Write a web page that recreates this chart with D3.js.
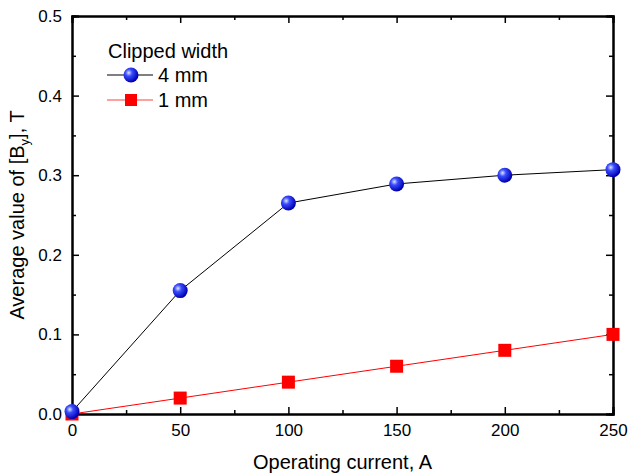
<!DOCTYPE html>
<html lang="en">
<head>
    <meta charset="UTF-8">
    <title>Average value of By vs operating current</title>
    <script src="https://cdnjs.cloudflare.com/ajax/libs/d3/7.8.5/d3.min.js"></script>
    <style>
        body { margin: 0; background: #fff; }
        svg { font-family: "Liberation Sans", Arial, sans-serif; }
    </style>
</head>
<body>
    <div id="chart"></div>
    <script>
        // Data
        const current = [0, 50, 100, 150, 200, 250];
        const width4mm = [0.003, 0.155, 0.265, 0.289, 0.300, 0.307];
        const width1mm = [0.0, 0.02, 0.04, 0.06, 0.08, 0.10];
        const xTicks = [0, 50, 100, 150, 200, 250];
        const yTicks = [0.0, 0.1, 0.2, 0.3, 0.4, 0.5];

        const width = 629, height = 475;
        const margin = { top: 16, right: 16, bottom: 61, left: 72 };
        const iw = width - margin.left - margin.right;
        const ih = height - margin.top - margin.bottom;

        const svg = d3.select("#chart").append("svg")
            .attr("width", width)
            .attr("height", height);

        // sphere look for the blue markers
        const grad = svg.append("defs").append("radialGradient")
            .attr("id", "ball").attr("cx", "35%").attr("cy", "35%").attr("r", "65%");
        grad.append("stop").attr("offset", "0%").attr("stop-color", "#e0e6ff");
        grad.append("stop").attr("offset", "35%").attr("stop-color", "#3a4dff");
        grad.append("stop").attr("offset", "100%").attr("stop-color", "#0000b0");

        const g = svg.append("g").attr("transform", `translate(${margin.left},${margin.top})`);

        const x = d3.scaleLinear().domain([0, 250]).range([0, iw]);
        const y = d3.scaleLinear().domain([0, 0.5]).range([ih, 0]);

        const minorX = d3.range(25, 250, 50);
        const minorY = d3.range(0.05, 0.5, 0.1);

        // axes, ticks pointing inwards
        g.append("g").attr("transform", `translate(0,${ih})`)
            .call(d3.axisBottom(x).tickValues(xTicks).tickSize(-7).tickPadding(10).tickFormat(d3.format("d")));
        g.append("g").attr("transform", `translate(0,${ih})`)
            .call(d3.axisBottom(x).tickValues(minorX).tickSize(-4).tickFormat(""));
        g.append("g")
            .call(d3.axisTop(x).tickValues(xTicks).tickSize(-7).tickFormat(""));
        g.append("g")
            .call(d3.axisTop(x).tickValues(minorX).tickSize(-4).tickFormat(""));

        g.append("g")
            .call(d3.axisLeft(y).tickValues(yTicks).tickSize(-7).tickPadding(10).tickFormat(d3.format(".1f")));
        g.append("g")
            .call(d3.axisLeft(y).tickValues(minorY).tickSize(-4).tickFormat(""));
        g.append("g").attr("transform", `translate(${iw},0)`)
            .call(d3.axisRight(y).tickValues(yTicks).tickSize(-7).tickFormat(""));
        g.append("g").attr("transform", `translate(${iw},0)`)
            .call(d3.axisRight(y).tickValues(minorY).tickSize(-4).tickFormat(""));

        g.selectAll(".domain").attr("stroke", "#000").attr("stroke-width", 2);
        g.selectAll(".tick line").attr("stroke", "#000").attr("stroke-width", 1.5);
        g.selectAll(".tick text").attr("font-size", 17).attr("fill", "#000")
            .attr("font-family", "Liberation Sans, Arial, sans-serif");

        const line = d3.line().x((d, i) => x(current[i])).y(d => y(d));

        g.append("path").datum(width4mm)
            .attr("d", line).attr("fill", "none").attr("stroke", "#000").attr("stroke-width", 1);
        g.append("path").datum(width1mm)
            .attr("d", line).attr("fill", "none").attr("stroke", "#ff0000").attr("stroke-width", 1);

        const sq = 13;
        g.selectAll(".sq").data(width1mm).enter().append("rect")
            .attr("x", (d, i) => x(current[i]) - sq / 2)
            .attr("y", d => y(d) - sq / 2)
            .attr("width", sq).attr("height", sq)
            .attr("fill", "#ff0000");

        g.selectAll(".ball").data(width4mm).enter().append("circle")
            .attr("cx", (d, i) => x(current[i]))
            .attr("cy", d => y(d))
            .attr("r", 7.5)
            .attr("fill", "url(#ball)");

        // legend
        const lg = g.append("g").attr("transform", "translate(36,0)");
        lg.append("text").attr("x", 0).attr("y", 42).attr("font-size", 20).text("Clipped width");
        lg.append("line").attr("x1", -1).attr("x2", 45).attr("y1", 59).attr("y2", 59)
            .attr("stroke", "#000").attr("stroke-width", 1);
        lg.append("circle").attr("cx", 23).attr("cy", 59).attr("r", 7.5).attr("fill", "url(#ball)");
        lg.append("text").attr("x", 50).attr("y", 66).attr("font-size", 20).text("4 mm");
        lg.append("line").attr("x1", -1).attr("x2", 45).attr("y1", 84).attr("y2", 84)
            .attr("stroke", "#ff8080").attr("stroke-width", 1.5);
        lg.append("rect").attr("x", 17).attr("y", 78).attr("width", 12).attr("height", 12).attr("fill", "#ff0000");
        lg.append("text").attr("x", 50).attr("y", 91).attr("font-size", 20).text("1 mm");

        // axis titles
        svg.append("text")
            .attr("x", margin.left + iw / 2).attr("y", 469)
            .attr("text-anchor", "middle").attr("font-size", 20)
            .text("Operating current, A");

        const yt = svg.append("text")
            .attr("transform", `translate(24,${margin.top + ih / 2}) rotate(-90)`)
            .attr("text-anchor", "middle").attr("font-size", 20);
        yt.append("tspan").text("Average value of [B");
        yt.append("tspan").attr("font-size", 13).attr("dy", 5).text("y");
        yt.append("tspan").attr("dy", -5).text("], T");
    </script>
</body>
</html>
